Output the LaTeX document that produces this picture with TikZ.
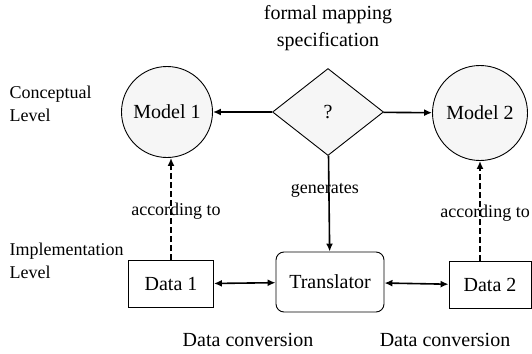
\documentclass[tikz,border=0pt]{standalone}
\usepackage{fontspec}
\setmainfont{Liberation Serif}
\usetikzlibrary{positioning, shapes.geometric, arrows.meta}

\begin{document}
\begin{tikzpicture}[x=1pt, y=-1pt, font=\fontsize{18}{23}\selectfont,
	m/.style={circle, draw, line width=0.9pt, fill=gray!7, inner sep=0pt, font=\fontsize{20}{24}\selectfont},
	q/.style={diamond, draw, line width=0.9pt, fill=gray!7, inner sep=0pt, minimum width=111pt, minimum height=87pt, font=\fontsize{20}{24}\selectfont},
	d/.style={rectangle, draw, line width=0.9pt, minimum width=85pt, minimum height=47pt, font=\fontsize{20}{24}\selectfont},
	t/.style={rectangle, rounded corners=8pt, draw, line width=0.9pt, minimum width=108pt, minimum height=60pt, font=\fontsize{20}{24}\selectfont},
	s/.style={line width=1.6pt, -{Latex[length=8pt, width=7pt]}},
	ss/.style={line width=1.6pt, {Latex[length=8pt, width=7pt]}-{Latex[length=8pt, width=7pt]}},
	dd/.style={line width=1.6pt, dash pattern=on 6pt off 3pt, -{Latex[length=8pt, width=7pt]}}]
	\useasboundingbox (0,0) rectangle (532,353);

	\node[m, minimum size=91pt] (M1) at (167,112) {Model 1};
	\node[q] (Q) at (328,112) {?};
	\node[m, minimum size=95pt] (M2) at (480,113) {Model 2};
	\node[d] (D1) at (171,284) {Data 1};
	\node[t] (T) at (330,282) {Translator};
	\node[d, minimum width=82pt] (D2) at (490,285) {Data 2};

	\node[align=center, font=\fontsize{20}{27}\selectfont] (title) at (328,28) {formal mapping\\specification};
	\node[anchor=west, align=left] (conc) at (6,104) {Conceptual\\Level};
	\node[anchor=west, align=left] (impl) at (6,261) {Implementation\\Level};
	\node[font=\fontsize{20}{24}\selectfont] (conv1) at (248,340) {Data conversion};
	\node[font=\fontsize{20}{24}\selectfont] (conv2) at (445,340) {Data conversion};

	\path[s] (Q) edge (M1);
	\path[s] (Q) edge (M2);
	\path[s] (Q) edge node[pos=0.36, xshift=-4pt] {generates} (T);
	\path[ss] (D1) edge (T);
	\path[ss] (T) edge (D2);
	\path[dd] (D1.north) edge node[pos=0.48, xshift=5pt] {according to} (D1.north |- M1.south);
	\path[dd] (D2.north -| M2.south) edge node[pos=0.48, xshift=5pt] {according to} (M2.south);
\end{tikzpicture}
\end{document}
